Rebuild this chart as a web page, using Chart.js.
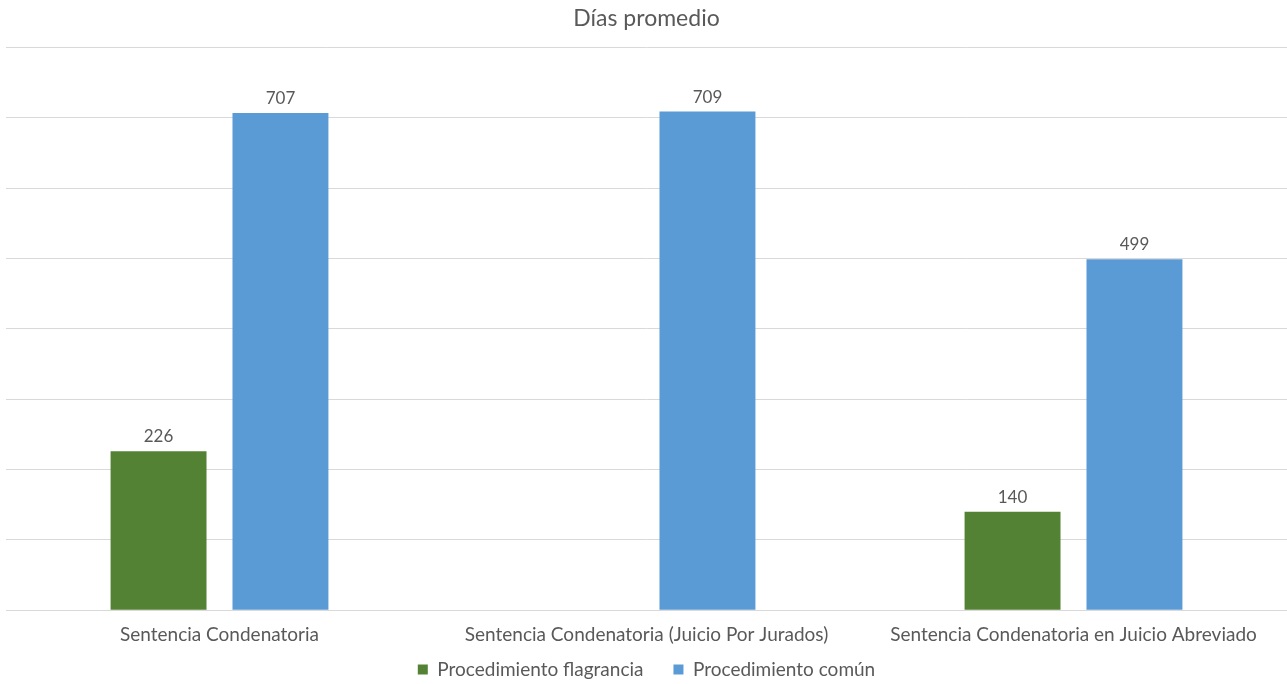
<!DOCTYPE html>
<html lang="es">
<head>
<meta charset="utf-8">
<script src="https://cdn.jsdelivr.net/npm/chart.js@4"></script>
<style>
    html, body { margin: 0; padding: 0; background: #ffffff; }
    #grafico-wrap { width: 1287px; height: 684px; }
</style>
</head>
<body>
<div id="grafico-wrap"><canvas id="grafico-dias"></canvas></div>
<script>
const categorias = [
    'Sentencia Condenatoria',
    'Sentencia Condenatoria (Juicio Por Jurados)',
    'Sentencia Condenatoria en Juicio Abreviado'
];
const diasFlagrancia = [226, null, 140];
const diasComun = [707, 709, 499];
const nomesSeries = ['Procedimiento flagrancia', 'Procedimiento común'];

const FONTE = 'Lato, "Open Sans", sans-serif';
const COR_TEXTO = '#595959';

// desenha o valor em cima de cada barra
const rotulosBarras = {
    id: 'rotulosBarras',
    afterDatasetsDraw(chart) {
        const ctx = chart.ctx;
        ctx.save();
        ctx.font = '17px ' + FONTE;
        ctx.fillStyle = COR_TEXTO;
        ctx.textAlign = 'center';
        ctx.textBaseline = 'bottom';
        chart.data.datasets.forEach((ds, i) => {
            const meta = chart.getDatasetMeta(i);
            meta.data.forEach((barra, j) => {
                const valor = ds.data[j];
                if (valor === null || valor === undefined) return;
                ctx.fillText(String(valor), barra.x, barra.y - 6);
            });
        });
        ctx.restore();
    }
};

// sobe a legenda (o padding grande dela serve so para o espaco entre os itens)
const ajusteLegenda = {
    id: 'ajusteLegenda',
    afterLayout(chart) {
        const leg = chart.legend;
        if (!leg) return;
        const desloc = 29;
        leg.top -= desloc;
        leg.bottom -= desloc;
    }
};

new Chart(document.getElementById('grafico-dias'), {
    type: 'bar',
    data: {
        labels: categorias,
        datasets: [
            {
                label: nomesSeries[0],
                data: diasFlagrancia,
                backgroundColor: '#548235',
                borderWidth: 0
            },
            {
                label: nomesSeries[1],
                data: diasComun,
                backgroundColor: '#5B9BD5',
                borderWidth: 0
            }
        ]
    },
    options: {
        responsive: true,
        maintainAspectRatio: false,
        animation: false,
        categoryPercentage: 0.571,
        barPercentage: 0.787,
        layout: { padding: { left: 6, right: 0, top: 0, bottom: -34 } },
        plugins: {
            title: {
                display: true,
                text: 'Días promedio',
                color: COR_TEXTO,
                font: { family: FONTE, size: 23, weight: 'normal' },
                padding: { top: 5, bottom: 15 }
            },
            legend: {
                position: 'bottom',
                labels: {
                    color: COR_TEXTO,
                    font: { family: FONTE, size: 19 },
                    boxWidth: 10,
                    boxHeight: 10,
                    padding: 30
                }
            },
            tooltip: { enabled: false }
        },
        scales: {
            x: {
                grid: { display: false, drawTicks: false },
                border: { display: true, color: '#d9d9d9', width: 1 },
                ticks: {
                    color: COR_TEXTO,
                    font: { family: FONTE, size: 19 },
                    padding: 13,
                    maxRotation: 0,
                    autoSkip: false
                }
            },
            y: {
                min: 0,
                max: 800,
                ticks: { display: false, stepSize: 100 },
                grid: { color: '#d9d9d9', drawTicks: false },
                border: { display: false }
            }
        }
    },
    plugins: [rotulosBarras, ajusteLegenda]
});
</script>
</body>
</html>
